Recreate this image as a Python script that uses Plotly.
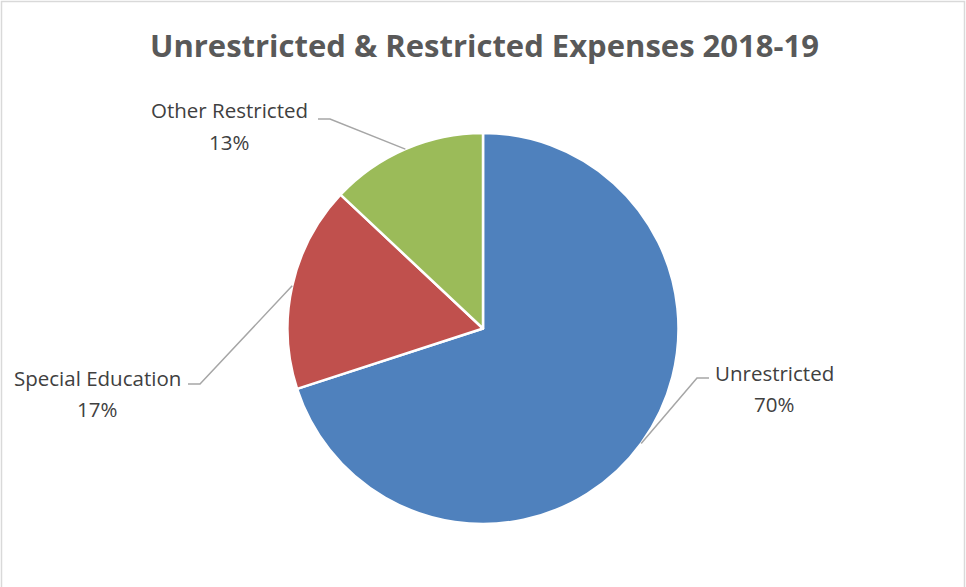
import math
import plotly.graph_objects as go

categories = ["Unrestricted", "Special Education", "Other Restricted"]
values = [70, 17, 13]
colors = ["#4F81BD", "#C0504D", "#9BBB59"]

W, H = 966, 587
# pie domain (pixels)
cx, cy, r = 483, 328.5, 195.5

fig = go.Figure(go.Pie(
    labels=categories,
    values=values,
    sort=False,
    direction="clockwise",
    rotation=0,
    textinfo="none",
    hoverinfo="label+percent",
    marker=dict(colors=colors, line=dict(color="white", width=2.5)),
    domain=dict(x=[(cx - r) / W, (cx + r) / W], y=[1 - (cy + r) / H, 1 - (cy - r) / H]),
    showlegend=False,
))

# label anchor positions (pixels): text centre, and leader elbow
label_pos = {
    "Unrestricted": dict(tx=774, ty=388, ex=709, ey=378, hx=697),
    "Special Education": dict(tx=97, ty=393, ex=188, ey=384, hx=200),
    "Other Restricted": dict(tx=229, ty=126, ex=318, ey=119, hx=330),
}
line_gap = 15.5

total = sum(values)
shapes = []
annotations = []
start = 0.0
font = dict(family="Open Sans", size=20.5, color="#404040")
for cat, v in zip(categories, values):
    frac = v / total
    mid = (start + frac / 2) * 360.0
    start += frac
    ang = math.radians(90 - mid)
    px = cx + r * math.cos(ang)
    py = cy - r * math.sin(ang)
    lp = label_pos[cat]
    path = f"M {lp['ex']/W},{1-lp['ey']/H} L {lp['hx']/W},{1-lp['ey']/H} L {px/W},{1-py/H}"
    shapes.append(dict(type="path", xref="paper", yref="paper", path=path,
                       line=dict(color="#A6A6A6", width=1.5)))
    for txt, dy in ((cat, -line_gap), (f"{round(frac*100)}%", line_gap)):
        annotations.append(dict(
            x=lp["tx"] / W, y=1 - (lp["ty"] + dy) / H, xref="paper", yref="paper",
            text=txt, showarrow=False, font=font,
            xanchor="center", yanchor="middle", align="center",
        ))

# chart border
shapes.append(dict(type="rect", xref="paper", yref="paper",
                   x0=1.5 / W, x1=1 - 1.5 / W, y0=-0.05, y1=1 - 1.5 / H,
                   line=dict(color="#D9D9D9", width=1.5)))

fig.update_layout(
    width=W, height=H,
    margin=dict(l=0, r=0, t=0, b=0),
    paper_bgcolor="white",
    plot_bgcolor="white",
    title=dict(text="<b>Unrestricted & Restricted Expenses 2018-19</b>",
               x=0.5015, xanchor="center", y=1 - 46 / H, yanchor="middle",
               font=dict(family="Open Sans", size=31, color="#595959")),
    shapes=shapes,
    annotations=annotations,
)

fig.write_html("out.html", config={"displayModeBar": False},
               post_script="document.body.style.margin='0';")
